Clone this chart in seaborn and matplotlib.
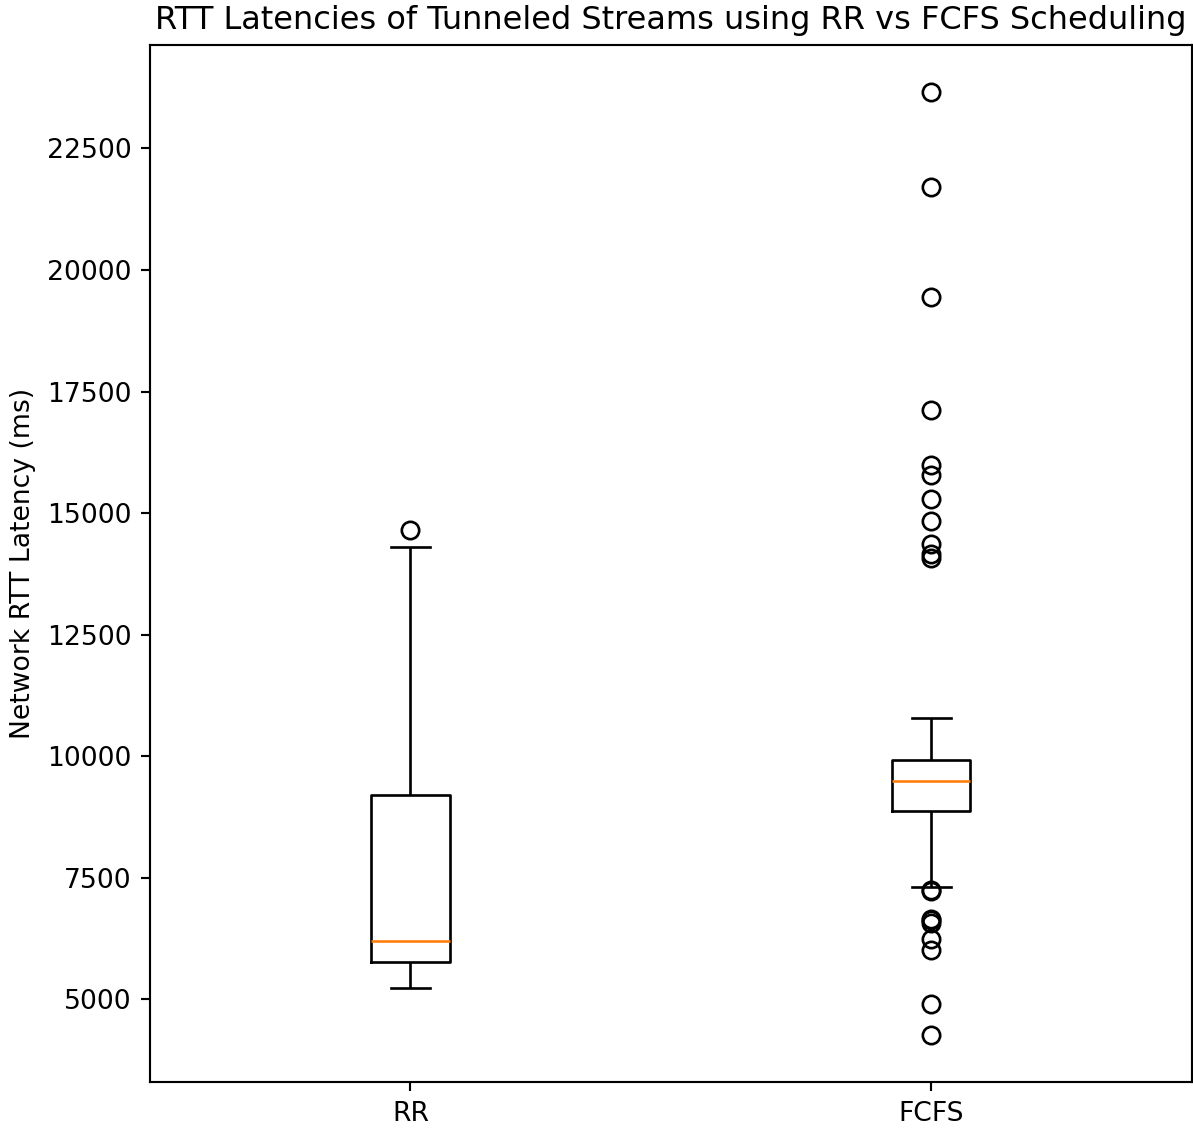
import matplotlib
matplotlib.use("Agg")
import matplotlib.pyplot as plt
import seaborn as sns
import pandas as pd

# Data (sorted RTT samples, ms)
categories = ["RR", "FCFS"]
rr_latency = [5240, 5450, 5610, 5775, 5890, 6040, 6200, 6900, 7800, 9200,
              11600, 14310, 14650]
fcfs_latency = [4266, 4897, 6008, 6234, 6577, 6620, 6659, 7230, 7250,
                7300, 8300, 8700, 8865,
                8950, 9040, 9110, 9180, 9240, 9290, 9330, 9370, 9410, 9440, 9465,
                9490,
                9520, 9550, 9590, 9620, 9660, 9700, 9740, 9780, 9820, 9860, 9890,
                9920, 10790,
                14080, 14150, 14357, 14836, 15282, 15776, 15981, 17119, 19450,
                21712, 23658]

df = pd.DataFrame({
    "scheduler": [categories[0]] * len(rr_latency) + [categories[1]] * len(fcfs_latency),
    "latency": rr_latency + fcfs_latency,
})

DPI = 192
fig = plt.figure(figsize=(1193 / DPI, 1129 / DPI), dpi=DPI)
ax = fig.add_axes([150 / 1193, 1 - 1082 / 1129, 1043 / 1193 - 0.001, (1082 - 45) / 1129])

sns.boxplot(
    data=df, x="scheduler", y="latency", order=categories, ax=ax,
    width=0.15, fill=False, color="black", linewidth=1.0,
    medianprops={"color": "C1", "linewidth": 1.0},
    flierprops={"marker": "o", "markerfacecolor": "none",
                "markeredgecolor": "black", "markersize": 6.5, "markeredgewidth": 1.0},
    capwidths=0.075, whis=1.5,
)

ax.set_title("RTT Latencies of Tunneled Streams using RR vs FCFS Scheduling", fontsize=12)
ax.set_ylabel("Network RTT Latency (ms)", fontsize=10)
ax.set_xlabel("")
ax.tick_params(labelsize=10)
ax.set_xlim(-0.5, 1.5)

fig.savefig("out.png", dpi=DPI)
